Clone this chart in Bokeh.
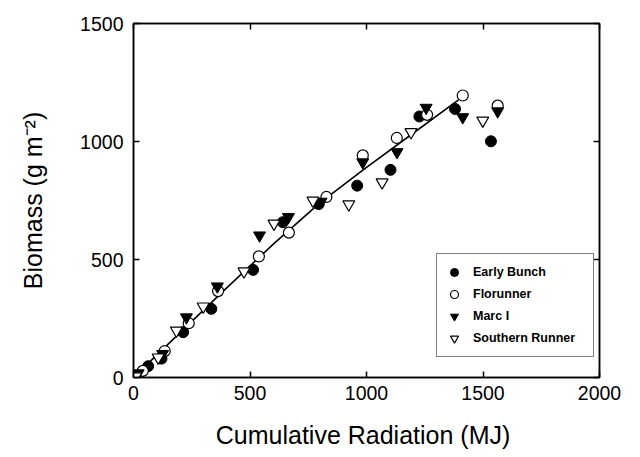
from bokeh.plotting import figure
from bokeh.models import LinearAxis, Legend, LegendItem, Range1d, FixedTicker
from bokeh.embed import file_html
from bokeh.resources import INLINE

# ---- data ----
early_x = [0, 63, 120, 213, 334, 513, 641, 795, 960, 1103, 1227, 1380, 1534]
early_y = [0, 48, 80, 192, 291, 456, 658, 735, 813, 880, 1106, 1138, 1001]

flor_x = [40, 134, 237, 363, 538, 667, 828, 984, 1130, 1260, 1413, 1563]
flor_y = [28, 112, 230, 366, 513, 614, 765, 941, 1015, 1113, 1195, 1152]

marc_x = [20, 125, 227, 360, 541, 665, 805, 984, 1131, 1256, 1413, 1563]
marc_y = [18, 100, 255, 386, 602, 680, 745, 912, 955, 1143, 1103, 1128]

south_x = [10, 106, 184, 299, 474, 603, 770, 924, 1067, 1191, 1499]
south_y = [5, 85, 199, 301, 450, 652, 750, 734, 827, 1040, 1089]

fit_x = [0, 200, 400, 600, 800, 1000, 1200, 1395]
fit_y = [0, 190, 380, 565, 740, 890, 1035, 1176]

x_ticks = [0, 500, 1000, 1500, 2000]
y_ticks = [0, 500, 1000, 1500]

FONT = "Liberation Sans"

p = figure(width=640, height=457, output_backend="svg", toolbar_location=None,
           x_range=Range1d(0, 2000), y_range=Range1d(0, 1500),
           min_border_left=133, min_border_right=41, min_border_top=23,
           min_border_bottom=80)
p.xgrid.visible = False
p.ygrid.visible = False
p.outline_line_color = "black"
p.outline_line_width = 1.5
p.background_fill_color = "white"
p.border_fill_color = "white"

for ax, ticks in ((p.xaxis[0], x_ticks), (p.yaxis[0], y_ticks)):
    ax.ticker = FixedTicker(ticks=ticks)
    ax.major_tick_in = 6
    ax.major_tick_out = 0
    ax.minor_tick_line_color = None
    ax.axis_line_width = 1.5
    ax.major_tick_line_width = 1.5
    ax.major_label_text_font = FONT
    ax.major_label_text_font_size = "19.5px"
    ax.major_label_text_color = "black"
    ax.axis_label_text_font = FONT
    ax.axis_label_text_font_size = "25px"
    ax.axis_label_text_font_style = "normal"
    ax.axis_label_text_color = "black"

p.xaxis[0].axis_label = "Cumulative  Radiation (MJ)"
p.xaxis[0].major_label_standoff = 8
p.xaxis[0].axis_label_standoff = 18
p.yaxis[0].axis_label = "Biomass (g m\u207b\u00b2)"
p.yaxis[0].major_label_standoff = 10
p.yaxis[0].axis_label_standoff = 30

def frame_axis(ticks):
    return LinearAxis(ticker=FixedTicker(ticks=ticks),
                      major_label_text_font_size="0px", major_label_text_color=None,
                      major_tick_in=6, major_tick_out=0, minor_tick_line_color=None,
                      axis_line_width=1.5, major_tick_line_width=1.5,
                      major_label_standoff=0)

p.add_layout(frame_axis(x_ticks), "above")
p.add_layout(frame_axis(y_ticks), "right")

p.line(fit_x, fit_y, line_color="black", line_width=1.6)

r_e = p.scatter(early_x, early_y, marker="circle", size=11,
                fill_color="black", line_color="black")
r_f = p.scatter(flor_x, flor_y, marker="circle", size=11,
                fill_color="white", line_color="black", line_width=1.2)
r_m = p.scatter(marc_x, marc_y, marker="inverted_triangle", size=12,
                fill_color="black", line_color="black")
r_s = p.scatter(south_x, south_y, marker="inverted_triangle", size=12,
                fill_color="white", line_color="black", line_width=1.2)

legend = Legend(items=[
    LegendItem(label="Early Bunch", renderers=[r_e]),
    LegendItem(label="Florunner", renderers=[r_f]),
    LegendItem(label="Marc I", renderers=[r_m]),
    LegendItem(label="Southern Runner", renderers=[r_s]),
], location=(303, 20))
legend.border_line_color = "black"
legend.border_line_width = 1.2
legend.background_fill_alpha = 1.0
legend.padding = 7
legend.spacing = 0
legend.margin = 0
legend.glyph_width = 20
legend.glyph_height = 22
legend.label_height = 22
legend.label_width = 113
legend.label_standoff = 9
legend.label_text_font = FONT
legend.label_text_font_style = "bold"
legend.label_text_font_size = "12.5px"
legend.label_text_color = "black"
p.add_layout(legend)

open("out.html", "w").write(file_html(p, INLINE))
